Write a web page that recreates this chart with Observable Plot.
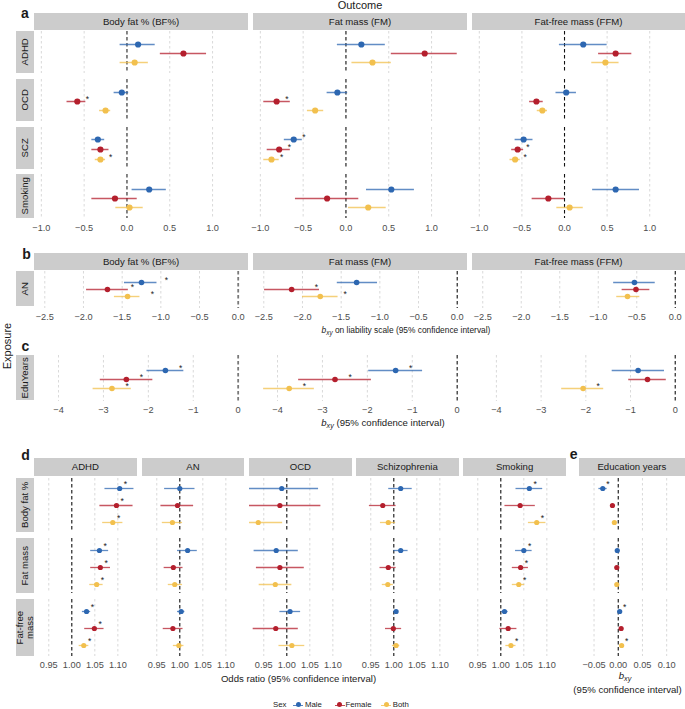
<!DOCTYPE html>
<html><head><meta charset="utf-8">
<script src="https://cdn.jsdelivr.net/npm/d3@7"></script>
<script src="https://cdn.jsdelivr.net/npm/@observablehq/plot@0.6"></script>
<style>
body{margin:0;background:#fff;}
#root{position:relative;width:685px;height:709px;overflow:hidden;font-family:"Liberation Sans",Arial,Helvetica,sans-serif;color:#1a1a1a;background:#fff;}
#root svg{position:absolute;}
.strip{position:absolute;background:#cccccc;font-size:9.6px;display:flex;align-items:center;justify-content:center;color:#1a1a1a;white-space:nowrap;}
.strip span{display:block;line-height:1.0;text-align:center;white-space:nowrap;}
.vstrip span{transform:rotate(-90deg);}
.lbl{position:absolute;white-space:nowrap;line-height:1;transform:translate(-50%,-50%);}
.lft{position:absolute;white-space:nowrap;line-height:1;transform:translate(0,-50%);}
.glyph{position:absolute;width:10px;height:6px;transform:translate(-50%,-50%);}
.glyph::before{content:"";position:absolute;left:0;right:0;top:2.5px;height:1.2px;background:var(--c);opacity:.8;}
.glyph::after{content:"";position:absolute;left:2.5px;top:0;width:5px;height:5px;border-radius:50%;background:var(--c);}
</style>
</head><body>
<div id="root"></div>
<script>
// ---------------- data ----------------
const sexes = ["Male", "Female", "Both"];
const sexColors = ["#2d67b1", "#b41f2d", "#f2c04e"];

const outcomesABC = ["Body fat % (BF%)", "Fat mass (FM)", "Fat-free mass (FFM)"];
const exposuresA = ["ADHD", "OCD", "SCZ", "Smoking"];

// panel a: [outcome, exposure, sex, estimate, lower, upper, significant]
const panelA = [
  ["Body fat % (BF%)","ADHD","Male",0.13,-0.08,0.33,0],
  ["Body fat % (BF%)","ADHD","Female",0.66,0.39,0.93,0],
  ["Body fat % (BF%)","ADHD","Both",0.09,-0.08,0.25,0],
  ["Body fat % (BF%)","OCD","Male",-0.06,-0.15,0.02,0],
  ["Body fat % (BF%)","OCD","Female",-0.58,-0.70,-0.48,1],
  ["Body fat % (BF%)","OCD","Both",-0.25,-0.32,-0.19,0],
  ["Body fat % (BF%)","SCZ","Male",-0.34,-0.41,-0.26,0],
  ["Body fat % (BF%)","SCZ","Female",-0.31,-0.41,-0.21,0],
  ["Body fat % (BF%)","SCZ","Both",-0.31,-0.37,-0.25,1],
  ["Body fat % (BF%)","Smoking","Male",0.26,0.06,0.46,0],
  ["Body fat % (BF%)","Smoking","Female",-0.14,-0.41,0.12,0],
  ["Body fat % (BF%)","Smoking","Both",0.03,-0.13,0.19,0],
  ["Fat mass (FM)","ADHD","Male",0.18,-0.10,0.46,0],
  ["Fat mass (FM)","ADHD","Female",0.92,0.53,1.30,0],
  ["Fat mass (FM)","ADHD","Both",0.31,0.07,0.53,0],
  ["Fat mass (FM)","OCD","Male",-0.10,-0.22,0.02,0],
  ["Fat mass (FM)","OCD","Female",-0.81,-0.96,-0.65,1],
  ["Fat mass (FM)","OCD","Both",-0.36,-0.45,-0.26,0],
  ["Fat mass (FM)","SCZ","Male",-0.61,-0.72,-0.51,1],
  ["Fat mass (FM)","SCZ","Female",-0.78,-0.92,-0.65,1],
  ["Fat mass (FM)","SCZ","Both",-0.87,-0.96,-0.78,1],
  ["Fat mass (FM)","Smoking","Male",0.53,0.24,0.80,0],
  ["Fat mass (FM)","Smoking","Female",-0.22,-0.59,0.15,0],
  ["Fat mass (FM)","Smoking","Both",0.26,0.03,0.47,0],
  ["Fat-free mass (FFM)","ADHD","Male",0.22,-0.06,0.50,0],
  ["Fat-free mass (FFM)","ADHD","Female",0.60,0.40,0.79,0],
  ["Fat-free mass (FFM)","ADHD","Both",0.48,0.32,0.64,0],
  ["Fat-free mass (FFM)","OCD","Male",0.02,-0.10,0.14,0],
  ["Fat-free mass (FFM)","OCD","Female",-0.33,-0.41,-0.25,0],
  ["Fat-free mass (FFM)","OCD","Both",-0.26,-0.32,-0.20,0],
  ["Fat-free mass (FFM)","SCZ","Male",-0.48,-0.58,-0.37,0],
  ["Fat-free mass (FFM)","SCZ","Female",-0.55,-0.62,-0.48,1],
  ["Fat-free mass (FFM)","SCZ","Both",-0.58,-0.64,-0.52,1],
  ["Fat-free mass (FFM)","Smoking","Male",0.60,0.33,0.88,0],
  ["Fat-free mass (FFM)","Smoking","Female",-0.19,-0.38,0.00,0],
  ["Fat-free mass (FFM)","Smoking","Both",0.06,-0.09,0.22,0]
];

// panel b: exposure AN (liability scale)
const panelB = [
  ["Body fat % (BF%)","AN","Male",-1.25,-1.47,-1.05,1],
  ["Body fat % (BF%)","AN","Female",-1.69,-1.96,-1.42,1],
  ["Body fat % (BF%)","AN","Both",-1.43,-1.60,-1.27,1],
  ["Fat mass (FM)","AN","Male",-1.30,-1.55,-1.03,0],
  ["Fat mass (FM)","AN","Female",-2.14,-2.49,-1.78,1],
  ["Fat mass (FM)","AN","Both",-1.77,-2.00,-1.54,1],
  ["Fat-free mass (FFM)","AN","Male",-0.53,-0.80,-0.26,0],
  ["Fat-free mass (FFM)","AN","Female",-0.51,-0.69,-0.33,0],
  ["Fat-free mass (FFM)","AN","Both",-0.62,-0.76,-0.46,0]
];

// panel c: exposure EduYears
const panelC = [
  ["Body fat % (BF%)","EduYears","Male",-1.62,-2.03,-1.21,1],
  ["Body fat % (BF%)","EduYears","Female",-2.49,-3.07,-1.90,1],
  ["Body fat % (BF%)","EduYears","Both",-2.81,-3.23,-2.38,1],
  ["Fat mass (FM)","EduYears","Male",-1.37,-1.97,-0.77,1],
  ["Fat mass (FM)","EduYears","Female",-2.72,-3.53,-1.91,1],
  ["Fat mass (FM)","EduYears","Both",-3.74,-4.31,-3.18,1],
  ["Fat-free mass (FFM)","EduYears","Male",-0.83,-1.41,-0.24,0],
  ["Fat-free mass (FFM)","EduYears","Female",-0.62,-1.04,-0.20,0],
  ["Fat-free mass (FFM)","EduYears","Both",-2.06,-2.54,-1.60,1]
];

// panel d: [outcome (exposure in MR), trait, sex, OR, lower, upper, significant]
const outcomesD = ["ADHD", "AN", "OCD", "Schizophrenia", "Smoking"];
const exposuresD = ["Body fat %", "Fat mass", "Fat-free mass"];
const panelD = [
  ["ADHD","Body fat %","Male",1.104,1.072,1.135,1],
  ["ADHD","Body fat %","Female",1.097,1.061,1.133,1],
  ["ADHD","Body fat %","Both",1.089,1.067,1.111,1],
  ["ADHD","Fat mass","Male",1.060,1.041,1.080,1],
  ["ADHD","Fat mass","Female",1.062,1.041,1.084,1],
  ["ADHD","Fat mass","Both",1.054,1.039,1.068,1],
  ["ADHD","Fat-free mass","Male",1.032,1.023,1.041,1],
  ["ADHD","Fat-free mass","Female",1.049,1.028,1.070,1],
  ["ADHD","Fat-free mass","Both",1.026,1.016,1.037,1],
  ["AN","Body fat %","Male",1.000,0.967,1.033,0],
  ["AN","Body fat %","Female",0.995,0.959,1.030,0],
  ["AN","Body fat %","Both",0.984,0.962,1.006,0],
  ["AN","Fat mass","Male",1.017,0.995,1.038,0],
  ["AN","Fat mass","Female",0.986,0.966,1.007,0],
  ["AN","Fat mass","Both",0.989,0.975,1.006,0],
  ["AN","Fat-free mass","Male",1.003,0.995,1.011,0],
  ["AN","Fat-free mass","Female",0.985,0.964,1.007,0],
  ["AN","Fat-free mass","Both",0.998,0.986,1.009,0],
  ["OCD","Body fat %","Male",0.989,0.919,1.069,0],
  ["OCD","Body fat %","Female",0.985,0.919,1.074,0],
  ["OCD","Body fat %","Both",0.938,0.919,0.991,0],
  ["OCD","Fat mass","Male",0.977,0.929,1.025,0],
  ["OCD","Fat mass","Female",0.985,0.934,1.038,0],
  ["OCD","Fat mass","Both",0.975,0.940,1.011,0],
  ["OCD","Fat-free mass","Male",1.007,0.985,1.030,0],
  ["OCD","Fat-free mass","Female",0.976,0.927,1.025,0],
  ["OCD","Fat-free mass","Both",1.011,0.983,1.039,0],
  ["Schizophrenia","Body fat %","Male",1.015,0.989,1.040,0],
  ["Schizophrenia","Body fat %","Female",0.976,0.947,1.005,0],
  ["Schizophrenia","Body fat %","Both",0.988,0.971,1.004,0],
  ["Schizophrenia","Fat mass","Male",1.015,1.000,1.031,0],
  ["Schizophrenia","Fat mass","Female",0.988,0.970,1.005,0],
  ["Schizophrenia","Fat mass","Both",0.987,0.975,0.999,0],
  ["Schizophrenia","Fat-free mass","Male",1.005,1.000,1.010,0],
  ["Schizophrenia","Fat-free mass","Female",0.999,0.982,1.017,0],
  ["Schizophrenia","Fat-free mass","Both",1.005,0.997,1.013,0],
  ["Smoking","Body fat %","Male",1.062,1.033,1.091,1],
  ["Smoking","Body fat %","Female",1.042,1.009,1.075,0],
  ["Smoking","Body fat %","Both",1.078,1.060,1.098,1],
  ["Smoking","Fat mass","Male",1.050,1.032,1.068,1],
  ["Smoking","Fat mass","Female",1.043,1.025,1.060,1],
  ["Smoking","Fat mass","Both",1.039,1.025,1.052,1],
  ["Smoking","Fat-free mass","Male",1.008,1.001,1.016,0],
  ["Smoking","Fat-free mass","Female",1.016,0.998,1.035,0],
  ["Smoking","Fat-free mass","Both",1.022,1.011,1.033,1]
];

// panel e: outcome Education years
const panelE = [
  ["Education years","Body fat %","Male",-0.032,-0.040,-0.023,1],
  ["Education years","Body fat %","Female",-0.012,-0.016,-0.008,0],
  ["Education years","Body fat %","Both",-0.008,-0.012,-0.004,0],
  ["Education years","Fat mass","Male",-0.002,-0.005,0.001,0],
  ["Education years","Fat mass","Female",-0.003,-0.006,0.000,0],
  ["Education years","Fat mass","Both",-0.003,-0.006,0.000,0],
  ["Education years","Fat-free mass","Male",0.003,0.000,0.006,1],
  ["Education years","Fat-free mass","Female",0.006,0.003,0.009,0],
  ["Education years","Fat-free mass","Both",0.007,0.004,0.010,1]
];

const ticksA = [-1, -0.5, 0, 0.5, 1];
const ticksB = [-2.5, -2, -1.5, -1, -0.5, 0];
const ticksC = [-4, -3, -2, -1, 0];
const ticksD = [0.95, 1.00, 1.05, 1.10];
const ticksE = [-0.05, 0, 0.05, 0.10];

// ---------------- helpers ----------------
const root = document.getElementById("root");
const toObj = r => ({col: r[0], row: r[1], sex: r[2], est: r[3], lo: r[4], hi: r[5], star: !!r[6]});
const FONT = '"Liberation Sans", Arial, Helvetica, sans-serif';

function cell(o) {
  const m = 16;
  const axH = o.axis ? 22 : 0;
  const plot = Plot.plot({
    width: o.w + 2 * m, height: o.h + axH,
    marginLeft: m, marginRight: m, marginTop: 0, marginBottom: axH,
    style: {background: "transparent", overflow: "visible", fontFamily: FONT, fontSize: "9.2px", color: "#4d4d4d"},
    x: {domain: o.domain, ticks: o.ticks, tickFormat: d3.format(o.fmt), tickSize: 0, tickPadding: o.pad, label: null, axis: o.axis ? "bottom" : null},
    y: {domain: sexes, range: [o.yPos[0], o.yPos[o.yPos.length - 1]], padding: 0, axis: null},
    color: {domain: sexes, range: sexColors},
    marks: [
      Plot.ruleX(o.ticks.filter(t => t !== o.zero), {stroke: "#cfcfcf", strokeWidth: 0.8, strokeDasharray: "2.5,2.5"}),
      Plot.ruleX([o.zero], {stroke: o.zeroColor, strokeWidth: o.zeroWidth, strokeDasharray: "3.5,2.5"}),
      Plot.ruleY(o.rows, {y: "sex", x1: "lo", x2: "hi", stroke: "sex", strokeWidth: o.sw, strokeOpacity: 0.75}),
      Plot.dot(o.rows, {x: "est", y: "sex", fill: "sex", r: o.r}),
      Plot.text(o.rows.filter(d => d.star), {x: d => d.est + o.starOff, y: "sex", text: () => "*", dy: o.starDy, textAnchor: "start", fontSize: 8.5, fill: "#222"})
    ]
  });
  plot.style.left = (o.left - m) + "px";
  plot.style.top = o.top + "px";
  root.appendChild(plot);
}
function strip(text, left, top, w, h, vertical) {
  const d = document.createElement("div");
  d.className = "strip" + (vertical ? " vstrip" : "");
  Object.assign(d.style, {left: left + "px", top: top + "px", width: w + "px", height: h + "px"});
  const s = document.createElement("span");
  s.innerHTML = text;
  d.appendChild(s);
  root.appendChild(d);
}
function label(html, x, y, size, extra = {}, cls = "lbl") {
  const d = document.createElement("div");
  d.className = cls;
  d.innerHTML = html;
  Object.assign(d.style, {left: x + "px", top: y + "px", fontSize: size + "px"}, extra);
  root.appendChild(d);
  return d;
}

// ---------------- layout ----------------
const colX = [34, 253, 472], colW = [214, 214, 213];
const rowStripX = 16, rowStripW = 18;
const bfZero = {zeroColor: "#7a7a7a", zeroWidth: 1.8};
const blackZero = {zeroColor: "#111", zeroWidth: 1.1};

// panel a
const aTop = [31, 79, 127, 174], aH = [42, 42, 42, 44];
const aPts = [[43, 53, 62], [91, 100.5, 110], [139, 149, 159], [188, 197.5, 207]];
const A = panelA.map(toObj);
outcomesABC.forEach((oc, i) => {
  strip(oc, colX[i], 13, colW[i], 17);
  exposuresA.forEach((ex, j) => {
    cell(Object.assign({
      left: colX[i], top: aTop[j], w: colW[i], h: aH[j],
      yPos: aPts[j].map(p => p - aTop[j]),
      rows: A.filter(d => d.col === oc && d.row === ex),
      domain: [-1.08, 1.42], ticks: ticksA, fmt: ".1f", axis: j === 3, pad: 6,
      zero: 0, r: 3.1, sw: 1.5, starOff: 0.1, starDy: -2
    }, i === 0 ? bfZero : blackZero));
  });
});
exposuresA.forEach((ex, j) => strip(ex, rowStripX, aTop[j], rowStripW, aH[j], true));

// panel b
const B = panelB.map(toObj);
outcomesABC.forEach((oc, i) => {
  strip(oc, colX[i], 253, colW[i], 17);
  cell(Object.assign({
    left: colX[i], top: 271, w: colW[i], h: 37,
    yPos: [10.7, 18.3, 26],
    rows: B.filter(d => d.col === oc),
    domain: [-2.633, 0.133], ticks: ticksB, fmt: ".1f", axis: true, pad: 5,
    zero: 0, r: 2.8, sw: 1.4, starOff: 0.3, starDy: -2
  }, i === 0 ? bfZero : blackZero));
});
strip("AN", rowStripX, 271, rowStripW, 35, true);

// panel c
const C = panelC.map(toObj);
outcomesABC.forEach((oc, i) => {
  cell(Object.assign({
    left: colX[i], top: 355, w: colW[i], h: 46,
    yPos: [14.3, 24.3, 34],
    rows: C.filter(d => d.col === oc),
    domain: [-4.535, 0.23], ticks: ticksC, fmt: "d", axis: true, pad: 5,
    zero: 0, r: 2.8, sw: 1.4, starOff: 0.3, starDy: -2
  }, i === 0 ? bfZero : blackZero));
});
strip("EduYears", rowStripX, 355, rowStripW, 45, true);

// panel d
const dX = [34, 141.7, 249, 356, 463.3], dW = 102.7;
const dTop = [478, 538, 599], dH = [54, 55, 57];
const dPts = [[487.3, 505, 522.7], [549, 566.7, 584.3], [610.3, 627.7, 645.7]];
const D = panelD.map(toObj);
outcomesD.forEach((oc, i) => {
  strip(oc, dX[i], 458, dW, 18);
  exposuresD.forEach((ex, j) => {
    cell({
      left: dX[i], top: dTop[j], w: dW, h: dH[j],
      yPos: dPts[j].map(p => p - dTop[j]),
      rows: D.filter(d => d.col === oc && d.row === ex),
      domain: [0.919, 1.142], ticks: ticksD, fmt: ".2f", axis: j === 2, pad: 5,
      zero: 1, zeroColor: "#111", zeroWidth: 1.1, r: 2.6, sw: 1.3, starOff: 0.009, starDy: -4
    });
  });
});
const dRowLabels = ["Body fat %", "Fat mass", "Fat-free<br>mass"];
dRowLabels.forEach((t, j) => strip(t, rowStripX, dTop[j], rowStripW, dH[j], true));

// panel e
const E = panelE.map(toObj);
strip("Education years", 578.7, 458, 106.3, 18);
exposuresD.forEach((ex, j) => {
  cell({
    left: 578.7, top: dTop[j], w: 106.3, h: dH[j],
    yPos: dPts[j].map(p => p - dTop[j]),
    rows: E.filter(d => d.row === ex),
    domain: [-0.080, 0.1395], ticks: ticksE, fmt: ".2f", axis: j === 2, pad: 5,
    zero: 0, zeroColor: "#111", zeroWidth: 1.1, r: 2.6, sw: 1.3, starOff: 0.007, starDy: -4
  });
});

// ---------------- text ----------------
const bold = {fontWeight: "bold"};
label("Outcome", 360, 5, 11);
label("a", 25, 12.6, 14, bold);
label("b", 26.5, 254.2, 14, bold);
label("c", 25.5, 345.9, 14, bold);
label("d", 25.5, 454.5, 14, bold);
label("e", 573.7, 454.2, 14, bold);
label("Exposure", 7, 346, 11, {transform: "translate(-50%,-50%) rotate(-90deg)"});
const bxy = '<i>b</i><sub style="font-size:0.75em;vertical-align:-0.3em"><i>xy</i></sub>';
label(bxy + " on liability scale (95% confidence interval)", 406, 331, 8.4);
label(bxy + " (95% confidence interval)", 383, 424, 9.6);
label("Odds ratio (95% confidence interval)", 298.5, 679, 9.6);
label(bxy, 625, 677, 9.6);
label("(95% confidence interval)", 627.5, 689.5, 9.6);

// legend
label("Sex", 273, 705, 7.8, {}, "lft");
const legendPos = [[298.3, 305], [339.5, 345.5], [386, 392.7]];
sexes.forEach((s, i) => {
  const g = document.createElement("div");
  g.className = "glyph";
  g.style.left = legendPos[i][0] + "px";
  g.style.top = "705px";
  g.style.setProperty("--c", sexColors[i]);
  root.appendChild(g);
  label(s, legendPos[i][1], 705, 7.8, {}, "lft");
});
</script>
</body></html>
